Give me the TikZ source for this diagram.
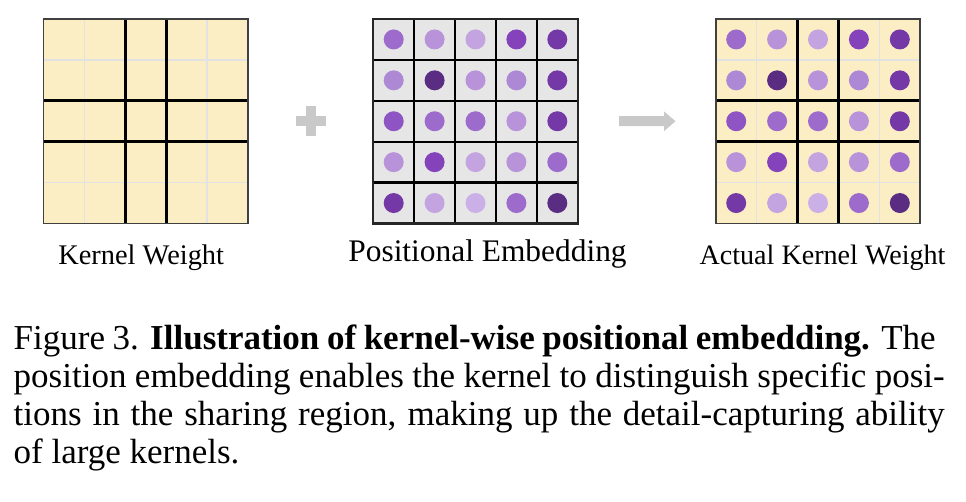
\documentclass[tikz,border=0pt]{standalone}
\usepackage{fontspec}
\setmainfont{Liberation Serif}
\definecolor{kyellow}{HTML}{FCEEC4}
\definecolor{pegray}{HTML}{E6E6E6}
\definecolor{thingray}{HTML}{E2E2E2}
\definecolor{opgray}{HTML}{C9C9C9}
\definecolor{Pa}{HTML}{CBB0E8}
\definecolor{Pb}{HTML}{C4A4E0}
\definecolor{Pc}{HTML}{B993DA}
\definecolor{Pd}{HTML}{AD89D5}
\definecolor{Pe}{HTML}{9C6BCC}
\definecolor{Pf}{HTML}{8E54C4}
\definecolor{Pg}{HTML}{8442BB}
\definecolor{Ph}{HTML}{7439A7}
\definecolor{Pi}{HTML}{5A2D83}
\tikzset{
  gridbox/.style={minimum width=204.5pt, minimum height=204.5pt, inner sep=0pt, outer sep=0pt},
  thinline/.style={draw=thingray, line width=1.6pt},
  thickline/.style={draw=black, line width=2.6pt},
  peline/.style={draw=black, line width=2.2pt},
  outerline/.style={draw=black!75, line width=1.8pt},
  lbl/.style={inner sep=0pt, anchor=base},
  capline/.style={inner sep=0pt, anchor=base west},
  dot/.style={radius=10pt}
}
\newcommand{\dotrowa}{Pe,Pc,Pb,Pg,Ph}
\begin{document}
\begin{tikzpicture}[x=1pt,y=-1pt]
\useasboundingbox (0,0) rectangle (966,502);
\fill[white] (0,0) rectangle (966,502);
% ---------- grid 1: kernel weight
\node[gridbox, fill=kyellow] (kw) at (145.75,121.25) {};
\begin{scope}[shift={(kw.north west)}]
  \foreach \i in {1,...,4} {
    \draw[thinline] (\i*40.9,0) -- (\i*40.9,204.5);
    \draw[thinline] (0,\i*40.9) -- (204.5,\i*40.9);
  }
  \foreach \i in {2,3} {
    \draw[thickline] (\i*40.9,0) -- (\i*40.9,204.5);
    \draw[thickline] (0,\i*40.9) -- (204.5,\i*40.9);
  }
\end{scope}
\draw[outerline] (kw.north west) rectangle (kw.south east);
% ---------- grid 2: positional embedding
\node[gridbox, fill=pegray] (pe) at (475.5,121.25) {};
\begin{scope}[shift={(pe.north west)}]
  \foreach \i in {1,...,4} {
    \draw[peline] (\i*40.9,0) -- (\i*40.9,204.5);
    \draw[peline] (0,\i*40.9) -- (204.5,\i*40.9);
  }
  \foreach \r/\cols in {0/{Pe,Pc,Pb,Pg,Ph},1/{Pd,Pi,Pc,Pd,Ph},2/{Pf,Pe,Pe,Pc,Ph},3/{Pc,Pg,Pb,Pc,Pe},4/{Ph,Pb,Pa,Pe,Pi}} {
    \foreach \c [count=\k from 0] in \cols {
      \fill[\c] (\k*40.9+20.45,\r*40.9+20.45) circle[radius=10pt];
    }
  }
\end{scope}
\draw[outerline, draw=black!85, line width=2.2pt] (pe.north west) rectangle (pe.south east);
% ---------- grid 3: actual kernel weight
\node[gridbox, fill=kyellow] (akw) at (818,121.25) {};
\begin{scope}[shift={(akw.north west)}]
  \foreach \i in {1,...,4} {
    \draw[thinline] (\i*40.9,0) -- (\i*40.9,204.5);
    \draw[thinline] (0,\i*40.9) -- (204.5,\i*40.9);
  }
  \foreach \i in {2,3} {
    \draw[thickline] (\i*40.9,0) -- (\i*40.9,204.5);
    \draw[thickline] (0,\i*40.9) -- (204.5,\i*40.9);
  }
  \foreach \r/\cols in {0/{Pe,Pc,Pb,Pg,Ph},1/{Pd,Pi,Pc,Pd,Ph},2/{Pf,Pe,Pe,Pc,Ph},3/{Pc,Pg,Pb,Pc,Pe},4/{Ph,Pb,Pa,Pe,Pi}} {
    \foreach \c [count=\k from 0] in \cols {
      \fill[\c] (\k*40.9+20.45,\r*40.9+20.45) circle[radius=10pt];
    }
  }
\end{scope}
\draw[outerline] (akw.north west) rectangle (akw.south east);
% ---------- plus sign
\fill[opgray] (295.7,116) rectangle (325.7,126);
\fill[opgray] (305.7,106) rectangle (315.7,136);
% ---------- arrow
\fill[opgray] (619,116.2) -- (664,116.2) -- (664,111.4) -- (675.5,121.2) -- (664,131.2) -- (664,126.2) -- (619,126.2) -- cycle;
% ---------- labels
\node[lbl, font=\fontsize{28.4}{32}\selectfont] (lkw) at (141.2,264.2) {Kernel Weight};
\node[lbl, font=\fontsize{31.4}{35}\selectfont] (lpe) at (487.5,261.6) {Positional Embedding};
\node[lbl, font=\fontsize{28.1}{32}\selectfont] (lakw) at (822.5,264.3) {Actual Kernel Weight};
% ---------- caption
\begin{scope}[font=\fontsize{35}{38}\selectfont]
\node[capline] (cap1) at (13.5,349) {\hbox to 922pt{Figure 3. \textbf{Illustration of kernel-wise positional embedding.} The}};
\node[capline] (cap2) at (13.5,387) {\hbox to 931pt{position embedding enables the kernel to distinguish specific posi-}};
\node[capline] (cap3) at (13.5,425) {\hbox to 931pt{tions in the sharing region, making up the detail-capturing ability}};
\node[capline] (cap4) at (13.5,463) {of large kernels.};
\end{scope}
\end{tikzpicture}
\end{document}
